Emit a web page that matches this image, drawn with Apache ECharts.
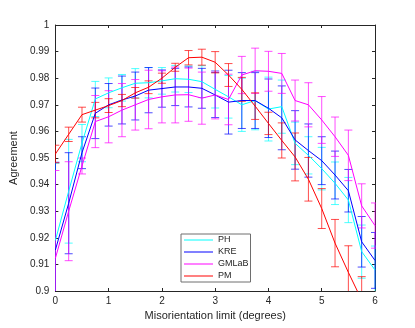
<!DOCTYPE html>
<html>
<head>
<meta charset="utf-8">
<script src="https://cdn.jsdelivr.net/npm/echarts@6/dist/echarts.min.js"></script>
<style>
html,body{margin:0;padding:0;background:#fff}
#chart{width:415px;height:328px}
</style>
</head>
<body>
<div id="chart"></div>
<script>
// misorientation limits (degrees)
var limits = [0, 0.25, 0.5, 0.75, 1, 1.25, 1.5, 1.75, 2, 2.25, 2.5, 2.75, 3, 3.25, 3.5, 3.75, 4, 4.25, 4.5, 4.75, 5, 5.25, 5.5, 5.75, 6];

// mean agreement per method, and half-length of error bars
var ph     = [0.919, 0.9375, 0.9556, 0.9722, 0.9745, 0.9764, 0.9781, 0.9783, 0.979, 0.9798, 0.9796, 0.9787, 0.9758, 0.973, 0.970, 0.9716, 0.9684, 0.9693, 0.9555, 0.951, 0.946, 0.9405, 0.9342, 0.9148, 0.9079];
var phErr  = [0.029, 0.0195, 0.007, 0.0066, 0.0056, 0.005, 0.0055, 0.0057, 0.005, 0.005, 0.005, 0.006, 0.007, 0.008, 0.010, 0.011, 0.012, 0.010, 0.008, 0.007, 0.008, 0.008, 0.0085, 0.010, 0.009];
var kre    = [0.9154, 0.933, 0.952, 0.9668, 0.970, 0.9718, 0.9733, 0.9755, 0.9761, 0.9767, 0.9767, 0.9762, 0.9737, 0.971, 0.9716, 0.9716, 0.9687, 0.9651, 0.9568, 0.9528, 0.949, 0.9436, 0.9377, 0.9185, 0.9115];
var kreErr = [0.033, 0.019, 0.006, 0.0095, 0.008, 0.009, 0.009, 0.0085, 0.007, 0.007, 0.0075, 0.0075, 0.0085, 0.012, 0.0105, 0.0105, 0.011, 0.012, 0.011, 0.010, 0.009, 0.009, 0.008, 0.0095, 0.0105];
var gml    = [0.9123, 0.930, 0.947, 0.9637, 0.9655, 0.968, 0.970, 0.972, 0.973, 0.9737, 0.9738, 0.9725, 0.9737, 0.972, 0.9812, 0.9828, 0.9826, 0.9818, 0.9716, 0.970, 0.9643, 0.958, 0.951, 0.932, 0.9246];
var gmlErr = [0.033, 0.0186, 0.003, 0.0098, 0.0098, 0.010, 0.0095, 0.011, 0.0098, 0.0105, 0.010, 0.0098, 0.009, 0.0095, 0.007, 0.0085, 0.0075, 0.0075, 0.0077, 0.0083, 0.0088, 0.0074, 0.0095, 0.0083, 0.0085];
var pm     = [0.9515, 0.9589, 0.9663, 0.968, 0.9697, 0.9716, 0.9745, 0.9766, 0.980, 0.9841, 0.9877, 0.9879, 0.986, 0.9812, 0.9758, 0.9695, 0.963, 0.9566, 0.9504, 0.942, 0.931, 0.918, 0.907, 0.8966, 0.885];
var pmErr  = [0.0033, 0.0027, 0.0028, 0.0029, 0.0026, 0.0023, 0.002, 0.0024, 0.0019, 0.0015, 0.0027, 0.003, 0.004, 0.0043, 0.0045, 0.005, 0.0042, 0.0066, 0.009, 0.0082, 0.0075, 0.0089, 0.010, 0.0088, 0.009];

var xTicks = [0, 1, 2, 3, 4, 5, 6];
var methods = ['PH', 'KRE', 'GMLaB', 'PM'];

var axisColor = '#262626';
var font = '"Liberation Sans", Arial, sans-serif';

function lineSeries(name, color, vals) {
    return {
        name: name,
        type: 'line',
        symbol: 'none',
        z: 3,
        lineStyle: {color: color, width: 1},
        itemStyle: {color: color},
        data: limits.map(function (x, i) { return [x, vals[i]]; })
    };
}

function errSeries(name, color, vals, errs) {
    return {
        name: name + ' err',
        type: 'custom',
        silent: true,
        clip: true,
        z: 2,
        encode: {x: 0, y: [1, 2]},
        data: limits.map(function (x, i) { return [x, vals[i] - errs[i], vals[i] + errs[i]]; }),
        renderItem: function (params, api) {
            var lo = api.coord([api.value(0), api.value(1)]);
            var hi = api.coord([api.value(0), api.value(2)]);
            var w = 4;
            var st = {stroke: color, lineWidth: 1, opacity: 0.7};
            return {
                type: 'group',
                children: [
                    {type: 'line', shape: {x1: hi[0], y1: hi[1], x2: lo[0], y2: lo[1]}, style: st},
                    {type: 'line', shape: {x1: hi[0] - w, y1: hi[1], x2: hi[0] + w, y2: hi[1]}, style: st},
                    {type: 'line', shape: {x1: lo[0] - w, y1: lo[1], x2: lo[0] + w, y2: lo[1]}, style: st}
                ]
            };
        }
    };
}

function xAx(pos, showLabel) {
    return {
        type: 'value', position: pos, min: xTicks[0], max: xTicks[xTicks.length - 1], interval: 1,
        name: showLabel ? 'Misorientation limit (degrees)' : '',
        nameLocation: 'middle', nameGap: 17,
        nameTextStyle: {color: axisColor, fontSize: 11, fontFamily: font},
        axisLine: {show: true, onZero: false, lineStyle: {color: axisColor, width: 1}},
        axisTick: {show: true, inside: true, length: 3, lineStyle: {color: axisColor}},
        axisLabel: {show: showLabel, color: axisColor, fontSize: 10, fontFamily: font, margin: 5},
        splitLine: {show: false}
    };
}

function yAx(pos, showLabel) {
    return {
        type: 'value', position: pos, min: 0.9, max: 1, interval: 0.01,
        name: showLabel ? 'Agreement' : '',
        nameLocation: 'middle', nameGap: 27,
        nameTextStyle: {color: axisColor, fontSize: 11, fontFamily: font},
        axisLine: {show: true, onZero: false, lineStyle: {color: axisColor, width: 1}},
        axisTick: {show: true, inside: true, length: 3, lineStyle: {color: axisColor}},
        axisLabel: {
            show: showLabel, color: axisColor, fontSize: 10, fontFamily: font, margin: 6,
            formatter: function (v) { return String(parseFloat(v.toFixed(2))); }
        },
        splitLine: {show: false}
    };
}

var chart = echarts.init(document.getElementById('chart'));
chart.setOption({
    animation: false,
    backgroundColor: '#ffffff',
    grid: {left: 53, right: 40, top: 25, bottom: 37},
    xAxis: [xAx('bottom', true), xAx('top', false)],
    yAxis: [yAx('left', true), yAx('right', false)],
    legend: {
        data: methods,
        orient: 'vertical',
        left: 181, top: 234,
        padding: [0, 2, 0, 3],
        itemGap: 0,
        itemWidth: 29, itemHeight: 1,
        icon: 'rect',
        backgroundColor: '#fff',
        borderColor: '#6e6e6e',
        borderWidth: 1,
        textStyle: {color: axisColor, fontSize: 9, fontFamily: font, lineHeight: 12}
    },
    series: [
        errSeries('PH', '#00ffff', ph, phErr),
        lineSeries('PH', '#00ffff', ph),
        errSeries('KRE', '#0000ff', kre, kreErr),
        lineSeries('KRE', '#0000ff', kre),
        errSeries('GMLaB', '#ff00ff', gml, gmlErr),
        lineSeries('GMLaB', '#ff00ff', gml),
        errSeries('PM', '#ff0000', pm, pmErr),
        lineSeries('PM', '#ff0000', pm)
    ]
});
</script>
</body>
</html>
